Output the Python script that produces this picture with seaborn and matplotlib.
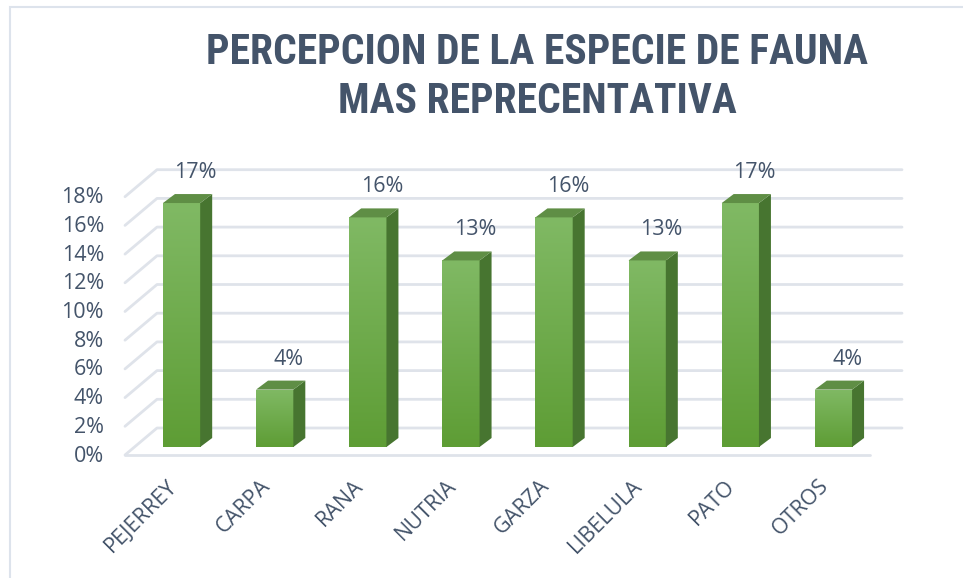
import matplotlib
matplotlib.use("Agg")
import matplotlib.pyplot as plt
import matplotlib.transforms as mtransforms
from matplotlib import font_manager
from matplotlib.patches import Polygon, Rectangle
from matplotlib.lines import Line2D
import seaborn as sns
import pandas as pd
import numpy as np

# data
especies = ["PEJERREY", "CARPA", "RANA", "NUTRIA", "GARZA", "LIBELULA", "PATO", "OTROS"]
porcentajes = [17, 4, 16, 13, 16, 13, 17, 4]
ticks_y = [0, 2, 4, 6, 8, 10, 12, 14, 16, 18]

titulo = "PERCEPCION DE LA ESPECIE DE FAUNA\nMAS REPRECENTATIVA"
texto = "#44546A"
grid_col = "#dfe3ea"

sns.set_theme(style="white")
plt.rcParams["font.family"] = ["Open Sans", "DejaVu Sans"]

# narrowest bold family that is actually installed, for the title
instaladas = {f.name for f in font_manager.fontManager.ttflist}
fuente_titulo = "DejaVu Sans"
for cand in ["Liberation Sans Narrow", "Roboto Condensed", "Open Sans Condensed", "Roboto"]:
    if cand in instaladas:
        fuente_titulo = cand
        break
tam_titulo = 30 if "Narrow" in fuente_titulo or "Condensed" in fuente_titulo else 24

fig = plt.figure(figsize=(9.63, 5.78), dpi=100)
W, H = 963, 578
# axes = plane of the bars' front faces
ax = fig.add_axes([135 / W, (H - 447) / H, 745 / W, 258.3 / H])

df = pd.DataFrame({"especie": especies, "pct": porcentajes})
sns.barplot(data=df, x="especie", y="pct", color="#6aaa44", width=0.4,
            saturation=1, ax=ax, zorder=3)
ax.set_xlim(-0.5, len(especies) - 0.5)
ax.set_ylim(0, 18)
ax.axis("off")

def off(dx, dy):
    return mtransforms.offset_copy(ax.transData, fig=fig, x=dx, y=dy, units="dots")

front = off(-10, -8)    # front edge of the floor / side wall
back = off(22, 19)      # back wall
depth_x, depth_y = 12, 9  # bar depth in pixels

xl, xr = -0.5, len(especies) - 0.5
for v in ticks_y:
    # side-wall diagonal and back-wall line
    p0 = front.transform((xl, v))
    p1 = back.transform((xl, v))
    p2 = back.transform((xr, v))
    fig.add_artist(Line2D([p0[0], p1[0], p2[0]], [p0[1], p1[1], p2[1]],
                          transform=None, color=grid_col, lw=2, zorder=0))
    ax.text(xl, v, f"{v}%", transform=off(-31, -9), ha="right", va="center",
            fontsize=15.5, color=texto)
# front edge of the floor
p0 = front.transform((xl, 0))
p1 = front.transform((xr, 0))
fig.add_artist(Line2D([p0[0], p1[0]], [p0[1], p1[1]], transform=None,
                      color=grid_col, lw=2, zorder=0))

grad = np.linspace(0, 1, 100).reshape(-1, 1)
front_cmap = matplotlib.colors.LinearSegmentedColormap.from_list("f", ["#5e9d35", "#80b964"])

for bar, v in zip(ax.patches, porcentajes):
    x0, y0 = bar.get_x(), bar.get_y()
    w, h = bar.get_width(), bar.get_height()
    bar.set_facecolor("none")
    bar.set_edgecolor("none")
    # gradient front face
    im = ax.imshow(grad, cmap=front_cmap, origin="lower", aspect="auto",
                   extent=(x0, x0 + w, y0, y0 + h), zorder=3)
    im.set_clip_path(bar)
    # side and top faces in pixel space
    bl = ax.transData.transform((x0 + w, y0))
    tr = ax.transData.transform((x0 + w, y0 + h))
    tl = ax.transData.transform((x0, y0 + h))
    side = Polygon([bl, bl + (depth_x, depth_y), tr + (depth_x, depth_y), tr],
                   closed=True, transform=None, facecolor="#477530",
                   edgecolor="none", zorder=3)
    fig.add_artist(side)
    top = Polygon([tl, tr, tr + (depth_x, depth_y), tl + (depth_x, depth_y)],
                  closed=True, transform=None, facecolor="#5f8e45",
                  edgecolor="none", zorder=3)
    fig.add_artist(top)
    ax.text(x0 + w / 2, y0 + h, f"{v}%", transform=off(14, 20), ha="center",
            va="bottom", fontsize=15.5, color=texto, clip_on=False)

for i, name in enumerate(especies):
    ax.text(i, 0, name, transform=off(-8, -36), rotation=45,
            rotation_mode="anchor", ha="right", va="center",
            fontsize=15.5, color=texto)

fig.text(537 / W, 1 - 77 / H, titulo, ha="center", va="center",
         fontsize=tam_titulo, fontweight="bold", color=texto, linespacing=1.27,
         family=[fuente_titulo, "DejaVu Sans"])

fig.add_artist(Rectangle((10 / W, -0.1), 1.1, 1 - 7 / H + 0.1, transform=fig.transFigure,
                         facecolor="none", edgecolor="#dde3ec", lw=1.5))

fig.savefig("out.png", dpi=100)
